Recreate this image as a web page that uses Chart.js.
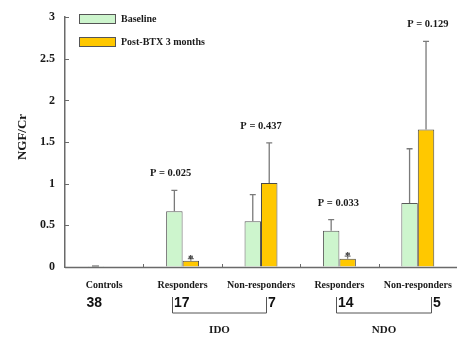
<!DOCTYPE html>
<html><head><meta charset="utf-8">
<script src="https://cdn.jsdelivr.net/npm/chart.js@4.4.1/dist/chart.umd.min.js"></script>
<style>html,body{margin:0;padding:0;background:#fff}canvas{display:block}</style>
</head><body>
<canvas id="c" width="457" height="338"></canvas>
<script>
const categories = ["Controls", "Responders", "Non-responders", "Responders", "Non-responders"];
const counts = ["38", "17", "7", "14", "5"];
const seriesNames = ["Baseline", "Post-BTX 3 months"];
const baseline = [0.01, 0.67, 0.55, 0.435, 0.77];
const baselineSD = [0, 0.25, 0.32, 0.135, 0.65];
const post = [0, 0.075, 1.01, 0.1, 1.65];
const postSD = [0, 0.025, 0.48, 0.03, 1.06];
const pValues = [null, "P = 0.025", "P = 0.437", "P = 0.033", "P = 0.129"];
const starred = [false, true, false, true, false];
const groups = [{name: "IDO", from: 1, to: 2}, {name: "NDO", from: 3, to: 4}];
const yTicks = [0, 0.5, 1, 1.5, 2, 2.5, 3];
const yTitle = "NGF/Cr";

const SERIF = "'Liberation Serif', 'DejaVu Serif', serif";
const SANS = "'Liberation Sans', Arial, sans-serif";
const sds = [baselineSD, postSD];

const overlay = {
  id: 'overlay',
  afterDatasetsDraw(chart) {
    const ctx = chart.ctx, x = chart.scales.x, y = chart.scales.y, area = chart.chartArea;
    ctx.save();
    // x axis line and inner ticks
    ctx.strokeStyle = '#6a6a6a'; ctx.lineWidth = 1.6;
    ctx.beginPath(); ctx.moveTo(area.left, area.bottom + 0.5); ctx.lineTo(area.right, area.bottom + 0.5); ctx.stroke();
    ctx.lineWidth = 1;
    for (let i = 1; i < categories.length; i++) {
      const px = Math.round((x.getPixelForValue(i - 1) + x.getPixelForValue(i)) / 2) + 0.5;
      ctx.beginPath(); ctx.moveTo(px, area.bottom); ctx.lineTo(px, area.bottom - 3); ctx.stroke();
    }
    // y axis inner ticks
    yTicks.forEach(v => {
      const py = Math.round(y.getPixelForValue(v)) + 0.5;
      ctx.beginPath(); ctx.moveTo(area.left, py); ctx.lineTo(area.left + 4, py); ctx.stroke();
    });
    // y title
    ctx.save();
    ctx.translate(23, 137); ctx.rotate(-Math.PI / 2);
    ctx.fillStyle = '#1a1a1a'; ctx.font = "bold 13px " + SERIF; ctx.textAlign = 'center'; ctx.textBaseline = 'middle';
    ctx.fillText(yTitle, 0, 0);
    ctx.restore();
    // error bars (upper only)
    ctx.strokeStyle = '#7a7a7a'; ctx.lineWidth = 1.3;
    const tops = categories.map(() => area.bottom);
    chart.data.datasets.forEach((ds, di) => {
      const meta = chart.getDatasetMeta(di);
      meta.data.forEach((bar, i) => {
        const sd = sds[di][i];
        const v = ds.data[i];
        const yt = y.getPixelForValue(v + sd);
        tops[i] = Math.min(tops[i], yt);
        if (sd > 0) {
          const yb = y.getPixelForValue(v);
          ctx.beginPath(); ctx.moveTo(bar.x, yb); ctx.lineTo(bar.x, yt);
          ctx.moveTo(bar.x - 3, yt); ctx.lineTo(bar.x + 3, yt); ctx.stroke();
        }
        if (di === 0 && i === 0) {
          ctx.beginPath(); ctx.moveTo(bar.x - 4, area.bottom - 1); ctx.lineTo(bar.x + 3, area.bottom - 1); ctx.stroke();
        }
        if (di === 1 && starred[i]) {
          ctx.fillStyle = '#222'; ctx.font = "bold 11px " + SERIF;
          ctx.textAlign = 'center'; ctx.textBaseline = 'alphabetic';
          ctx.fillText('*', bar.x, yt + 3);
        }
      });
    });
    // p values
    const pOff = [0, -12, 0, -1, 10];
    ctx.fillStyle = '#1a1a1a'; ctx.font = "bold 10.5px " + SERIF;
    ctx.textAlign = 'center'; ctx.textBaseline = 'alphabetic';
    pValues.forEach((t, i) => {
      if (!t) return;
      ctx.fillText(t, x.getPixelForValue(i) + pOff[i], Math.max(tops[i] - 14, 19));
    });
    // category labels
    ctx.font = "bold 10px " + SERIF; ctx.textBaseline = 'middle';
    categories.forEach((c, i) => ctx.fillText(c, x.getPixelForValue(i), area.bottom + 18));
    // brackets
    const bl = [0, -11, 5, -3, 13];
    ctx.strokeStyle = '#555'; ctx.lineWidth = 1;
    const bx = i => Math.round(x.getPixelForValue(i) + bl[i]) + 0.5;
    groups.forEach(g => {
      const a = bx(g.from), b = bx(g.to);
      const top = area.bottom + 30, bot = area.bottom + 46;
      ctx.beginPath(); ctx.moveTo(a, top); ctx.lineTo(a, bot); ctx.lineTo(b, bot); ctx.lineTo(b, top); ctx.stroke();
      ctx.font = "bold 11px " + SERIF; ctx.textAlign = 'center'; ctx.textBaseline = 'middle';
      ctx.fillText(g.name, (a + b) / 2, area.bottom + 63);
    });
    // counts
    ctx.font = "bold 14px " + SANS; ctx.textBaseline = 'middle'; ctx.fillStyle = '#111';
    counts.forEach((n, i) => {
      if (i === 0) { ctx.textAlign = 'center'; ctx.fillText(n, x.getPixelForValue(i) - 10, area.bottom + 36); }
      else { ctx.textAlign = 'left'; ctx.fillText(n, bx(i) + 1.5, area.bottom + 36); }
    });
    // legend
    chart.data.datasets.forEach((ds, di) => {
      const ly = 14 + di * 23;
      ctx.fillStyle = ds.backgroundColor; ctx.strokeStyle = '#555'; ctx.lineWidth = 1;
      ctx.fillRect(79.5, ly + 0.5, 36, 9); ctx.strokeRect(79.5, ly + 0.5, 36, 9);
      ctx.fillStyle = '#1a1a1a'; ctx.font = "bold 10px " + SERIF; ctx.textAlign = 'left'; ctx.textBaseline = 'middle';
      ctx.fillText(ds.label, 121, ly + 5);
    });
    ctx.restore();
  }
};

new Chart(document.getElementById('c'), {
  type: 'bar',
  data: {
    labels: categories,
    datasets: [
      {label: seriesNames[0], data: baseline, backgroundColor: '#cdf5cd', borderColor: '#5a5a5a', borderWidth: 1},
      {label: seriesNames[1], data: post, backgroundColor: '#ffc800', borderColor: '#4a4a4a', borderWidth: 1}
    ]
  },
  options: {
    responsive: false, animation: false,
    layout: {padding: {top: 14, left: 0, right: 0, bottom: 0}},
    plugins: {legend: {display: false}, tooltip: {enabled: false}},
    datasets: {bar: {categoryPercentage: 0.42, barPercentage: 1.0}},
    scales: {
      x: {
        grid: {display: false}, border: {display: false},
        ticks: {display: false},
        afterFit(s) { s.height = 71; }
      },
      y: {
        min: 0, max: 3,
        afterBuildTicks(s) { s.ticks = yTicks.map(v => ({value: v})); },
        grid: {drawOnChartArea: false, drawTicks: false},
        border: {display: true, color: '#6a6a6a', width: 1.5},
        ticks: {color: '#1a1a1a', font: {family: SERIF, size: 12, weight: 'bold'}, padding: 10, callback: v => String(v)},
        title: {display: false},
        afterFit(s) { s.width = 65; }
      }
    }
  },
  plugins: [overlay]
});
</script>
</body></html>
